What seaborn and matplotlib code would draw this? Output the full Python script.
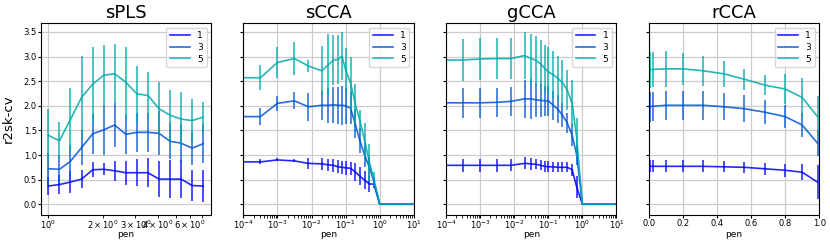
import numpy as np
import pandas as pd
import seaborn as sns
import matplotlib
matplotlib.use('Agg')
import matplotlib.pyplot as plt

# данные: среднее и полуширина планки (sd) для k = 1, 3, 5
ks = ['1', '3', '5']
colors = {'1': '#0000ff', '3': '#0055d4', '5': '#00aaaa'}

spls_pen = [1.0, 1.15, 1.32, 1.52, 1.75, 2.01, 2.31, 2.66, 3.06, 3.52, 4.05, 4.65, 5.35, 6.15, 7.08]
spls_m1 = [0.37, 0.40, 0.45, 0.51, 0.70, 0.71, 0.68, 0.64, 0.64, 0.64, 0.51, 0.51, 0.51, 0.38, 0.37]
spls_s1 = [0.18, 0.20, 0.22, 0.18, 0.15, 0.12, 0.20, 0.24, 0.27, 0.30, 0.37, 0.38, 0.38, 0.32, 0.32]
spls_m3 = [0.72, 0.71, 0.87, 1.15, 1.43, 1.51, 1.61, 1.42, 1.46, 1.46, 1.44, 1.28, 1.24, 1.14, 1.23]
spls_s3 = [0.33, 0.30, 0.33, 0.35, 0.40, 0.50, 0.44, 0.40, 0.40, 0.40, 0.45, 0.37, 0.38, 0.35, 0.40]
spls_m5 = [1.40, 1.29, 1.72, 2.17, 2.44, 2.62, 2.65, 2.48, 2.24, 2.21, 1.94, 1.81, 1.73, 1.70, 1.77]
spls_s5 = [0.54, 0.38, 0.65, 0.85, 0.76, 0.61, 0.60, 0.72, 0.56, 0.47, 0.54, 0.52, 0.54, 0.43, 0.31]

cca_pen = [0.0, 3.16e-4, 1e-3, 3.16e-3, 8e-3, 0.02, 0.031, 0.044, 0.06, 0.078, 0.1,
           0.14, 0.19, 0.26, 0.36, 0.5, 0.68, 1.0, 10.0]
scca_m1 = [0.86, 0.86, 0.90, 0.88, 0.83, 0.82, 0.80, 0.79, 0.76, 0.75, 0.74, 0.73, 0.66, 0.57, 0.49, 0.41, 0.41, 0.0, 0.0]
scca_s1 = [0.03, 0.05, 0.03, 0.03, 0.11, 0.12, 0.12, 0.13, 0.13, 0.13, 0.14, 0.13, 0.18, 0.18, 0.18, 0.16, 0.08, 0.0, 0.0]
scca_m3 = [1.78, 1.78, 2.05, 2.10, 1.98, 2.01, 2.01, 2.02, 2.01, 2.01, 2.00, 1.95, 1.64, 1.30, 1.00, 0.75, 0.45, 0.0, 0.0]
scca_s3 = [0.05, 0.17, 0.15, 0.17, 0.28, 0.30, 0.36, 0.37, 0.38, 0.40, 0.37, 0.32, 0.30, 0.25, 0.25, 0.20, 0.10, 0.0, 0.0]
scca_m5 = [2.57, 2.57, 2.88, 2.96, 2.81, 2.71, 2.83, 2.93, 2.94, 3.01, 2.73, 2.46, 2.05, 1.71, 1.30, 0.85, 0.50, 0.0, 0.0]
scca_s5 = [0.05, 0.25, 0.32, 0.33, 0.13, 0.50, 0.62, 0.50, 0.50, 0.49, 0.45, 0.54, 0.40, 0.20, 0.35, 0.37, 0.15, 0.0, 0.0]

gcca_m1 = [0.78, 0.79, 0.79, 0.79, 0.79, 0.83, 0.82, 0.81, 0.79, 0.77, 0.76, 0.76, 0.75, 0.75, 0.75, 0.70, 0.35, 0.0, 0.0]
gcca_s1 = [0.02, 0.13, 0.13, 0.13, 0.12, 0.12, 0.12, 0.10, 0.10, 0.11, 0.11, 0.10, 0.10, 0.10, 0.10, 0.12, 0.22, 0.0, 0.0]
gcca_m3 = [2.06, 2.06, 2.06, 2.07, 2.09, 2.14, 2.14, 2.12, 2.11, 2.10, 2.10, 2.01, 1.93, 1.81, 1.65, 1.40, 1.00, 0.0, 0.0]
gcca_s3 = [0.02, 0.30, 0.30, 0.30, 0.30, 0.38, 0.40, 0.35, 0.33, 0.30, 0.30, 0.30, 0.28, 0.25, 0.20, 0.22, 0.20, 0.0, 0.0]
gcca_m5 = [2.93, 2.93, 2.95, 2.96, 2.96, 3.02, 2.96, 2.92, 2.85, 2.76, 2.69, 2.63, 2.56, 2.47, 2.32, 2.05, 1.35, 0.0, 0.0]
gcca_s5 = [0.02, 0.42, 0.42, 0.42, 0.42, 0.47, 0.50, 0.50, 0.48, 0.48, 0.50, 0.48, 0.45, 0.45, 0.40, 0.47, 0.40, 0.0, 0.0]

rcca_pen = [0.0, 0.005, 0.025, 0.1, 0.2, 0.32, 0.44, 0.56, 0.68, 0.8, 0.9, 0.99]
rcca_m1 = [0.77, 0.77, 0.77, 0.77, 0.77, 0.77, 0.76, 0.75, 0.72, 0.69, 0.65, 0.45]
rcca_s1 = [0.80, 0.12, 0.12, 0.12, 0.12, 0.12, 0.11, 0.11, 0.12, 0.13, 0.16, 0.34]
rcca_m3 = [1.98, 1.98, 1.99, 2.01, 2.01, 2.01, 1.98, 1.94, 1.87, 1.78, 1.61, 1.24]
rcca_s3 = [0.30, 0.30, 0.30, 0.30, 0.30, 0.29, 0.27, 0.27, 0.24, 0.24, 0.24, 0.27]
rcca_m5 = [2.73, 2.73, 2.74, 2.75, 2.75, 2.71, 2.65, 2.54, 2.42, 2.34, 2.17, 1.78]
rcca_s5 = [0.36, 0.36, 0.36, 0.36, 0.33, 0.30, 0.26, 0.21, 0.20, 0.30, 0.40, 0.42]

panels = [
    ('sPLS', spls_pen, [(spls_m1, spls_s1), (spls_m3, spls_s3), (spls_m5, spls_s5)]),
    ('sCCA', cca_pen, [(scca_m1, scca_s1), (scca_m3, scca_s3), (scca_m5, scca_s5)]),
    ('gCCA', cca_pen, [(gcca_m1, gcca_s1), (gcca_m3, gcca_s3), (gcca_m5, gcca_s5)]),
    ('rCCA', rcca_pen, [(rcca_m1, rcca_s1), (rcca_m3, rcca_s3), (rcca_m5, rcca_s5)]),
]

fig, axes = plt.subplots(1, 4, figsize=(8.3, 2.43), dpi=100, sharey=True)
plt.subplots_adjust(left=0.049, right=0.987, top=0.905, bottom=0.115, wspace=0.19)

for ax, (name, pen, series) in zip(axes, panels):
    rows = []
    for k, (m, s) in zip(ks, series):
        rows.append(pd.DataFrame({'pen': pen, 'mean': m, 'sd': s, 'k': k}))
    df = pd.concat(rows, ignore_index=True)

    sns.lineplot(data=df, x='pen', y='mean', hue='k', palette=colors, ax=ax,
                 lw=1.2, alpha=0.85, legend=True)
    for k in ks:
        d = df[df['k'] == k]
        ax.vlines(d['pen'], d['mean'] - d['sd'], d['mean'] + d['sd'],
                  color=colors[k], lw=1.4, alpha=0.7)

    if name != 'rCCA':
        ax.set_xscale('log')
    if name in ('sCCA', 'gCCA'):
        ax.set_xlim(1e-4, 1e1)
    if name == 'rCCA':
        ax.set_xlim(0, 1)

    ax.grid(True, which='major', color='#cccccc', lw=0.9)
    ax.set_axisbelow(True)
    ax.set_title(name, fontsize=13, pad=4)
    ax.set_xlabel('pen', fontsize=6.5)
    ax.xaxis.set_label_coords(0.5, -0.08)
    ax.set_ylabel('')
    ax.tick_params(which='both', labelsize=6, length=2, pad=0.8)
    ax.legend(loc='upper right', fontsize=6.5, title=None, handlelength=2.2,
              borderpad=0.4, labelspacing=0.3)

axes[0].set_ylim(-0.22, 3.68)
axes[0].set_yticks(np.arange(0, 3.6, 0.5))
axes[0].set_ylabel('r2sk-cv', fontsize=9.5, labelpad=6)

plt.savefig('out.png', dpi=100)
